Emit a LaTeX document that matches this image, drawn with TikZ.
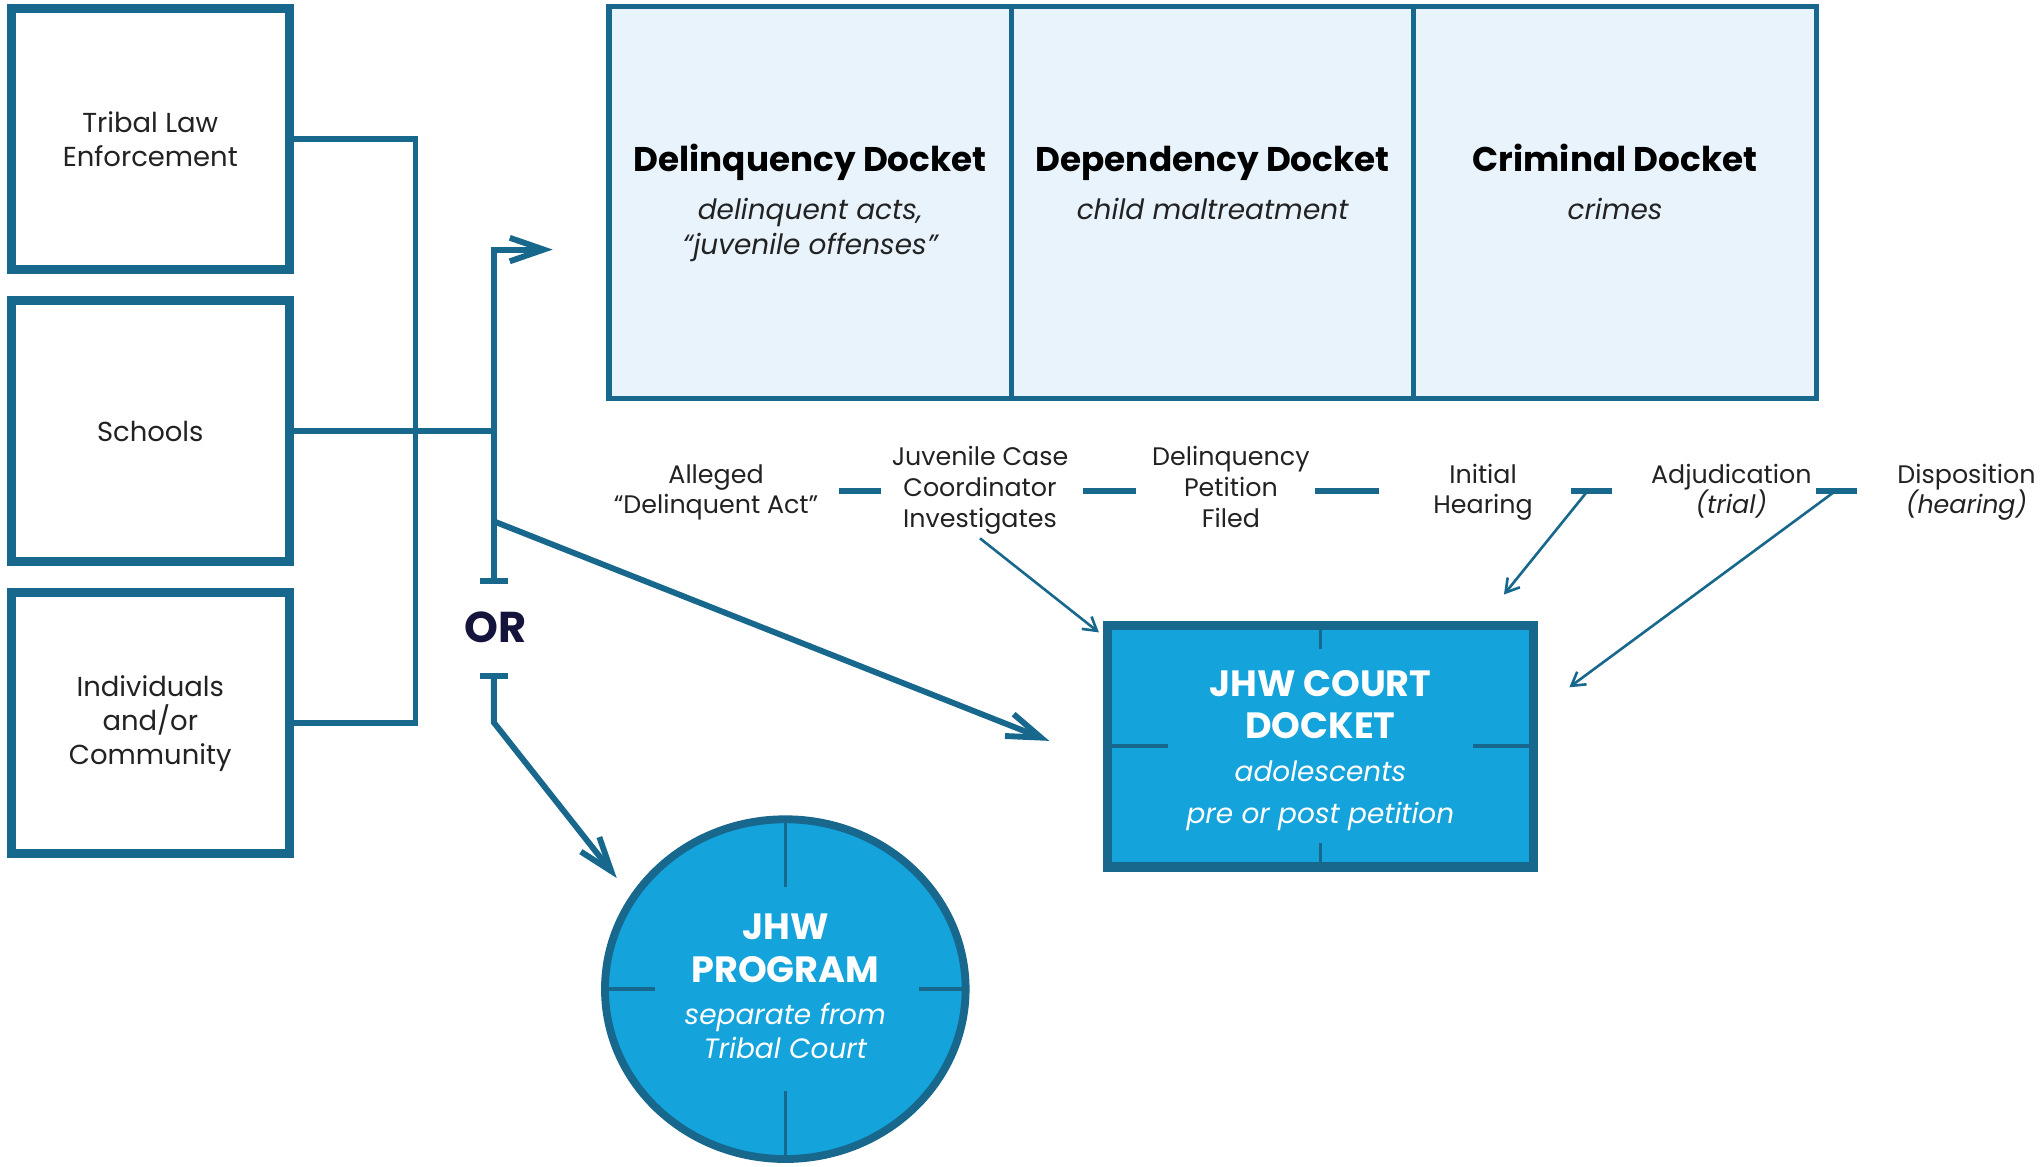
\documentclass[tikz,border=0pt]{standalone}
\usepackage{fontspec}
\setmainfont{Poppins}
\usetikzlibrary{arrows.meta,shapes.geometric}
\definecolor{bord}{HTML}{17688C}
\definecolor{lightfill}{HTML}{E8F3FC}
\definecolor{jhw}{HTML}{15A3DC}
\definecolor{orcol}{HTML}{14143C}
\definecolor{txt}{HTML}{222222}
\begin{document}
\begin{tikzpicture}[x=0.5pt,y=-0.5pt,
  srcbox/.style={draw=bord, line width=3.5pt, minimum width=106.5pt, minimum height=100pt,
    inner sep=0pt, align=center, font=\fontsize{10.5}{13}\selectfont, text=txt},
  panel/.style={draw=bord, fill=lightfill, line width=2pt, minimum width=154pt, minimum height=150pt, inner sep=0pt},
  conn/.style={draw=bord, line width=2.25pt},
  bigtip/.style={-{Straight Barb[length=13pt,width=9pt]}},
  bartip/.style={{Bar[width=10.5pt]}-{Straight Barb[length=13pt,width=9pt]}},
  thinarr/.style={draw=bord, line width=1pt, -{Straight Barb[length=5pt,width=6pt]}},
  dashbar/.style={draw=bord, line width=2.3pt},
  tick/.style={draw=bord, line width=1.3pt},
  proc/.style={anchor=base, inner sep=0pt, text=txt, font=\fontsize{9.7}{12}\selectfont},
  dtitle/.style={anchor=base, inner sep=0pt, text=black, font=\fontsize{13.1}{15}\selectfont\bfseries},
  dsub/.style={anchor=base, inner sep=0pt, text=txt, font=\fontsize{10.7}{13}\selectfont\itshape},
  wtitle/.style={anchor=base, inner sep=0pt, text=white, font=\fontsize{14}{16}\selectfont\bfseries},
  wsub/.style={anchor=base, inner sep=0pt, text=white, font=\fontsize{10.7}{13}\selectfont\itshape},
  orlbl/.style={anchor=base, inner sep=0pt, text=orcol, font=\fontsize{16.5}{18}\selectfont\bfseries}
]
\useasboundingbox (0,0) rectangle (1562,893);

% source boxes
\node[srcbox] (tle) at (115,106.5) {Tribal Law\\Enforcement};
\node[srcbox] (sch) at (115,330) {Schools};
\node[srcbox] (ind) at (115,553.5) {Individuals\\and/or\\Community};

% docket panels
\node[panel] (del) at (620,155) {};
\node[panel] (dep) at (928,155) {};
\node[panel] (crim) at (1236,155) {};
\node[dtitle] (delt) at (620,131) {Delinquency Docket};
\node[dsub] (dels1) at (620,168) {delinquent acts,};
\node[dsub] (dels2) at (620,195) {“juvenile offenses”};
\node[dtitle] (dept) at (928,131) {Dependency Docket};
\node[dsub] (deps1) at (928,168) {child maltreatment};
\node[dtitle] (crimt) at (1236,131) {Criminal Docket};
\node[dsub] (crims1) at (1236,168) {crimes};

% process labels
\node[proc] (p1a) at (548,370) {Alleged};
\node[proc] (p1b) at (548,393) {“Delinquent Act”};
\node[proc] (p2a) at (750,356) {Juvenile Case};
\node[proc] (p2b) at (750,380) {Coordinator};
\node[proc] (p2c) at (750,404) {Investigates};
\node[proc] (p3a) at (942,356) {Delinquency};
\node[proc] (p3b) at (942,380) {Petition};
\node[proc] (p3c) at (942,404) {Filed};
\node[proc] (p4a) at (1135,370) {Initial};
\node[proc] (p4b) at (1135,393) {Hearing};
\node[proc] (p5a) at (1325,370) {Adjudication};
\node[proc] (p5b) at (1325,393) {\itshape (trial)};
\node[proc] (p6a) at (1505,370) {Disposition};
\node[proc] (p6b) at (1505,393) {\itshape (hearing)};

\draw[dashbar] (642,376) -- (674,376);
\draw[dashbar] (829,376) -- (869,376);
\draw[dashbar] (1006,376) -- (1055,376);
\draw[dashbar] (1202,376) -- (1234,376);
\draw[dashbar] (1390,376) -- (1421,376);

% court docket
\node[draw=bord, fill=jhw, line width=3.5pt, minimum width=163pt, minimum height=92.5pt, inner sep=0pt] (court) at (1010.5,571) {};
\draw[tick] (court.north) ++(0,3.5) -- ++(0,18);
\draw[tick] (court.south) ++(0,-3.5) -- ++(0,-18);
\draw[tick] (court.west) ++(3.5,0) -- ++(46,0);
\draw[tick] (court.east) ++(-3.5,0) -- ++(-46,0);
\node[wtitle] (ct1) at (1010.5,533) {JHW COURT};
\node[wtitle] (ct2) at (1010.5,565) {DOCKET};
\node[wsub] (cs1) at (1010.5,598) {adolescents};
\node[wsub] (cs2) at (1010.5,630) {pre or post petition};

% program circle
\node[ellipse, draw=bord, fill=jhw, line width=3pt, minimum width=138pt, minimum height=130pt, inner sep=0pt] (prog) at (601,757) {};
\draw[tick] (prog.north) ++(0,3) -- ++(0,52);
\draw[tick] (prog.south) ++(0,-3) -- ++(0,-52);
\draw[tick] (prog.west) ++(3,0) -- ++(38,0);
\draw[tick] (prog.east) ++(-3,0) -- ++(-36,0);
\node[wtitle] (pt1) at (601,719) {JHW};
\node[wtitle] (pt2) at (601,752) {PROGRAM};
\node[wsub] (ps1) at (601,784) {separate from};
\node[wsub] (ps2) at (601,810) {Tribal Court};

% connectors from sources
\draw[conn] (tle.east) -- ++(93,0) |- (ind.east);
\coordinate (jn) at (378,330);
\draw[conn] (sch.east) -- (jn);
\coordinate (vtop) at (378,191);
\coordinate (vbot) at (378,447);
\coordinate (atip) at (423,191);
\draw[conn, bartip] (vbot) -- (vtop) -- (atip);
\coordinate (dstart) at (378,399);
\coordinate (ctip) at (803,567);
\draw[conn, bigtip] (dstart) -- (ctip);
\node[orlbl] (or) at (379,492) {OR};
\coordinate (obar) at (378,515);
\coordinate (obend) at (378,553);
\coordinate (ptip) at (472,672);
\draw[conn, bartip] (obar) -- (obend) -- (ptip);

% thin arrows to court
\coordinate (a1s) at (750,412);
\coordinate (a1e) at (841,484);
\draw[thinarr] (a1s) -- (a1e);
\coordinate (a2s) at (1214,377);
\coordinate (a2e) at (1151,455);
\draw[thinarr] (a2s) -- (a2e);
\coordinate (a3s) at (1403,377);
\coordinate (a3e) at (1201,526);
\draw[thinarr] (a3s) -- (a3e);
\end{tikzpicture}
\end{document}
